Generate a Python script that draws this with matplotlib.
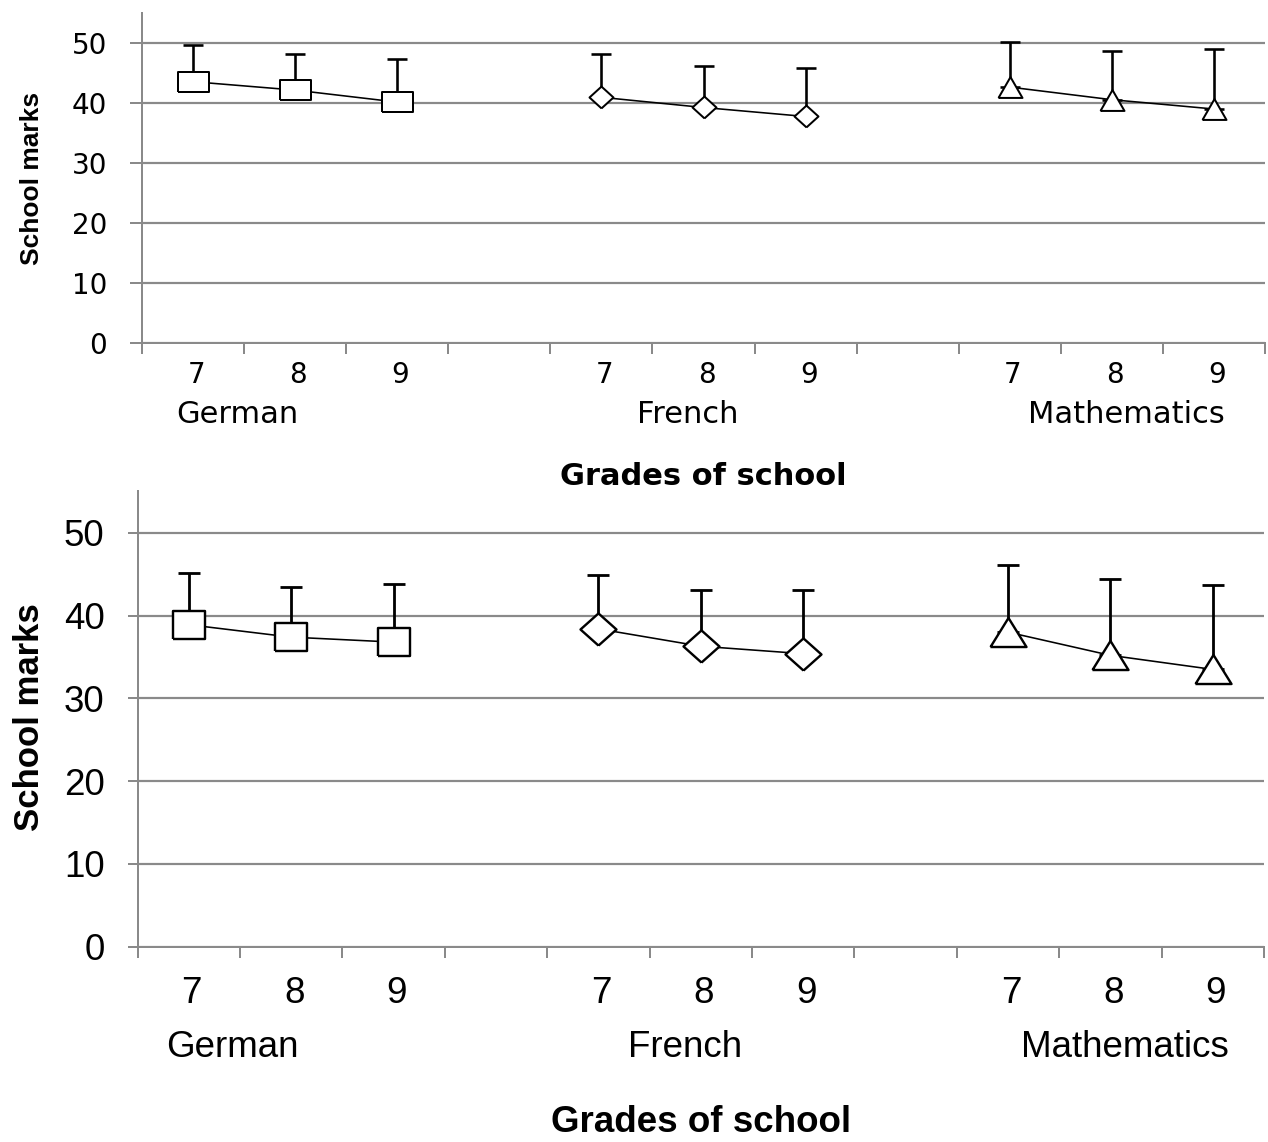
import matplotlib
matplotlib.use("Agg")
import matplotlib.pyplot as plt
import numpy as np

# ---------------- data ----------------
subjects = ["German", "French", "Mathematics"]
grades = ["7", "8", "9"]
yticks = [0, 10, 20, 30, 40, 50]

# top panel: means and upper error-bar ends
top_german = [43.6, 42.2, 40.2]
top_french = [41.0, 39.3, 37.8]
top_math = [42.7, 40.6, 39.05]
top_german_hi = [49.8, 48.3, 47.4]
top_french_hi = [48.3, 46.3, 45.9]
top_math_hi = [50.3, 48.8, 49.05]

# bottom panel
bot_german = [38.9, 37.4, 36.8]
bot_french = [38.4, 36.3, 35.4]
bot_math = [38.0, 35.2, 33.5]
bot_german_hi = [45.2, 43.4, 43.8]
bot_french_hi = [44.9, 43.1, 43.1]
bot_math_hi = [46.1, 44.4, 43.75]

xlabel = "Grades of school"
ylabel = "School marks"

# ---------------- layout ----------------
W, H = 1268, 1142
fig = plt.figure(figsize=(W / 100, H / 100), dpi=100)
GRAY = "#8a8a8a"
PX = 0.72  # points per pixel

subject_label_x = [0.93, 5.35, 9.64]


def marker_paths(sq_ratio, di_ratio, tri_ratio):
    sq = [(-sq_ratio, -1), (sq_ratio, -1), (sq_ratio, 1), (-sq_ratio, 1), (-sq_ratio, -1)]
    di = [(0, -1), (di_ratio, 0), (0, 1), (-di_ratio, 0), (0, -1)]
    tri = [(-tri_ratio, -1), (tri_ratio, -1), (0, 1), (-tri_ratio, -1)]
    return [sq, di, tri]


def draw_panel(rect, means, highs, markers, msizes, mew, elw, cap_px,
               font, fs_tick, fs_cat, fs_subj, fs_xlab, ylab_font, fs_ylab,
               ytick_len, ytick_pad_px, off_digit, off_subj, off_xlab, ylab_xy):
    ax = fig.add_axes(rect)
    ax.set_xlim(0, 11)
    ax.set_ylim(0, 55)
    for s in ["top", "right"]:
        ax.spines[s].set_visible(False)
    for s in ["left", "bottom"]:
        ax.spines[s].set_color(GRAY)
        ax.spines[s].set_linewidth(2 * PX)
    ax.set_yticks(yticks)
    ax.set_yticklabels([str(v) for v in yticks], fontfamily=font, fontsize=fs_tick)
    ax.tick_params(axis="y", length=ytick_len, width=2 * PX, color=GRAY,
                   pad=ytick_pad_px * PX, direction="out")
    ax.set_xticks(np.arange(0, 12))
    ax.set_xticklabels([])
    ax.tick_params(axis="x", length=8, width=2 * PX, color=GRAY, direction="out")
    ax.yaxis.grid(True, color=GRAY, linewidth=2.2 * PX)
    ax.set_axisbelow(True)

    xform = ax.get_xaxis_transform()
    for g in range(3):
        xs = [g * 4 + i + 0.5 for i in range(3)]
        m = means[g]
        hi = highs[g]
        up = [h - v for h, v in zip(hi, m)]
        ax.errorbar(xs, m, yerr=[[0, 0, 0], up], fmt="none", ecolor="black",
                    elinewidth=elw, capsize=cap_px * PX, capthick=elw, zorder=3)
        ax.plot(xs, m, color="black", linewidth=1.6 * PX, zorder=4)
        ax.plot(xs, m, linestyle="none", marker=markers[g], markersize=msizes[g],
                markerfacecolor="white", markeredgecolor="black",
                markeredgewidth=mew, zorder=5)
        for x, lab in zip(xs, grades):
            ax.annotate(lab, xy=(x + 0.03, 0), xycoords=xform, xytext=(0, -off_digit),
                        textcoords="offset pixels", ha="center", va="baseline",
                        fontfamily=font, fontsize=fs_cat)
        ax.annotate(subjects[g], xy=(subject_label_x[g], 0), xycoords=xform,
                    xytext=(0, -off_subj), textcoords="offset pixels",
                    ha="center", va="baseline", fontfamily=font, fontsize=fs_subj)
    ax.annotate(xlabel, xy=(0.5, 0), xycoords="axes fraction", xytext=(0, -off_xlab),
                textcoords="offset pixels", ha="center", va="baseline",
                fontfamily=font, fontsize=fs_xlab, fontweight="bold")
    fig.text(ylab_xy[0] / W, 1 - ylab_xy[1] / H, ylabel, rotation=90,
             ha="center", va="center", fontfamily=ylab_font, fontsize=fs_ylab,
             fontweight="bold")
    return ax


# top panel
t_left, t_right, t_y0, t_ppu = 142, 1265, 343.3, 6.0
top_rect = [t_left / W, 1 - t_y0 / H, (t_right - t_left) / W, 55 * t_ppu / H]
draw_panel(top_rect,
           [top_german, top_french, top_math],
           [top_german_hi, top_french_hi, top_math_hi],
           marker_paths(1.55, 1.1, 1.15), [31 * PX, 24 * PX, 24 * PX],
           mew=2 * PX, elw=2.6 * PX, cap_px=10,
           font="DejaVu Sans", fs_tick=20, fs_cat=20, fs_subj=22, fs_xlab=22,
           ylab_font="Liberation Sans", fs_ylab=19,
           ytick_len=12 * PX, ytick_pad_px=23,
           off_digit=40, off_subj=80, off_xlab=142, ylab_xy=(32, 178))

# bottom panel
b_left, b_right, b_y0, b_ppu = 137.5, 1264, 946.8, 8.28
bot_rect = [b_left / W, 1 - b_y0 / H, (b_right - b_left) / W, 55 * b_ppu / H]
draw_panel(bot_rect,
           [bot_german, bot_french, bot_math],
           [bot_german_hi, bot_french_hi, bot_math_hi],
           marker_paths(1.14, 1.12, 1.24), [32 * PX, 36 * PX, 36 * PX],
           mew=2.4 * PX, elw=2.8 * PX, cap_px=11,
           font="Liberation Sans", fs_tick=26.5, fs_cat=26.5, fs_subj=26.5, fs_xlab=26.5,
           ylab_font="Liberation Sans", fs_ylab=25,
           ytick_len=10 * PX, ytick_pad_px=23,
           off_digit=56, off_subj=110, off_xlab=185, ylab_xy=(30, 717))

fig.savefig("out.png", dpi=100)
